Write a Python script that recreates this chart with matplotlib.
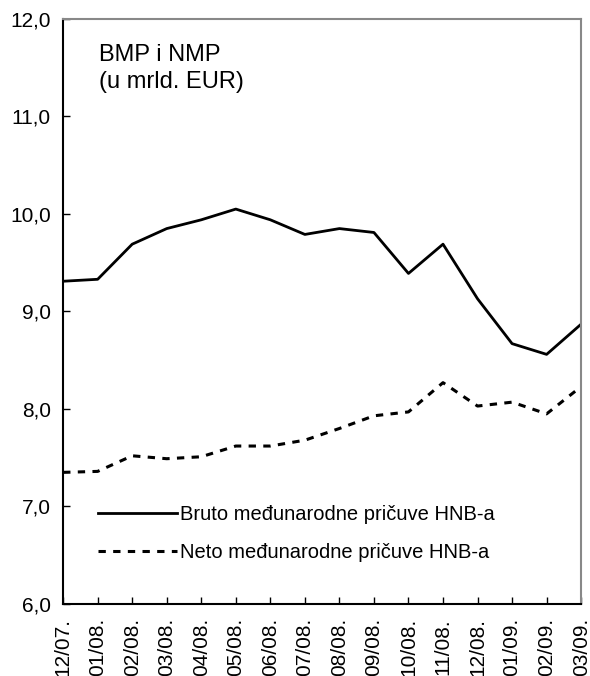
import matplotlib
matplotlib.use("Agg")
import matplotlib.pyplot as plt
import numpy as np

plt.rcParams['font.family'] = ['Liberation Sans', 'DejaVu Sans']

mjeseci = ['12/07.', '01/08.', '02/08.', '03/08.', '04/08.', '05/08.', '06/08.', '07/08.',
           '08/08.', '09/08.', '10/08.', '11/08.', '12/08.', '01/09.', '02/09.', '03/09.']
bruto = [9.31, 9.33, 9.69, 9.85, 9.94, 10.05, 9.94, 9.79,
         9.85, 9.81, 9.39, 9.69, 9.13, 8.67, 8.56, 8.87]
neto = [7.35, 7.36, 7.52, 7.49, 7.51, 7.62, 7.62, 7.68,
        7.80, 7.93, 7.97, 8.27, 8.03, 8.07, 7.95, 8.23]
yticks = [6, 7, 8, 9, 10, 11, 12]

x = np.arange(len(mjeseci))

fig = plt.figure(figsize=(5.9, 6.76), dpi=100)
ax = fig.add_axes([0.107, 0.1065, 0.878, 0.8655])

ax.plot(x, bruto, color='black', lw=2, label='Bruto međunarodne pričuve HNB-a')
ax.plot(x, neto, color='black', lw=2.2, ls=(0, (2.4, 2.4)), label='Neto međunarodne pričuve HNB-a')

ax.set_xlim(0, len(mjeseci) - 1)
ax.set_ylim(6, 12)
ax.set_yticks(yticks)
ax.set_yticklabels([f'{v:.1f}'.replace('.', ',') for v in yticks], fontsize=15)
ax.set_xticks(x)
ax.set_xticklabels(mjeseci, rotation=90, fontsize=15)
ax.tick_params(direction='in', length=5, width=1, colors='black')
ax.tick_params(axis='y', pad=9)
ax.tick_params(axis='x', pad=10)

for s in ['left', 'bottom']:
    ax.spines[s].set_color('black')
    ax.spines[s].set_linewidth(1.5)
for s in ['top', 'right']:
    ax.spines[s].set_color('#888888')
    ax.spines[s].set_linewidth(1.5)

ax.text(0.07, 0.958, 'BMP i NMP\n(u mrld. EUR)', transform=ax.transAxes,
        fontsize=17, va='top', ha='left', linespacing=1.3)

ax.legend(loc='lower left', bbox_to_anchor=(0.033, 0.04), frameon=False,
          fontsize=14.5, handlelength=3.9, handletextpad=0.15, labelspacing=0.95)

fig.savefig('out.png', dpi=100)
